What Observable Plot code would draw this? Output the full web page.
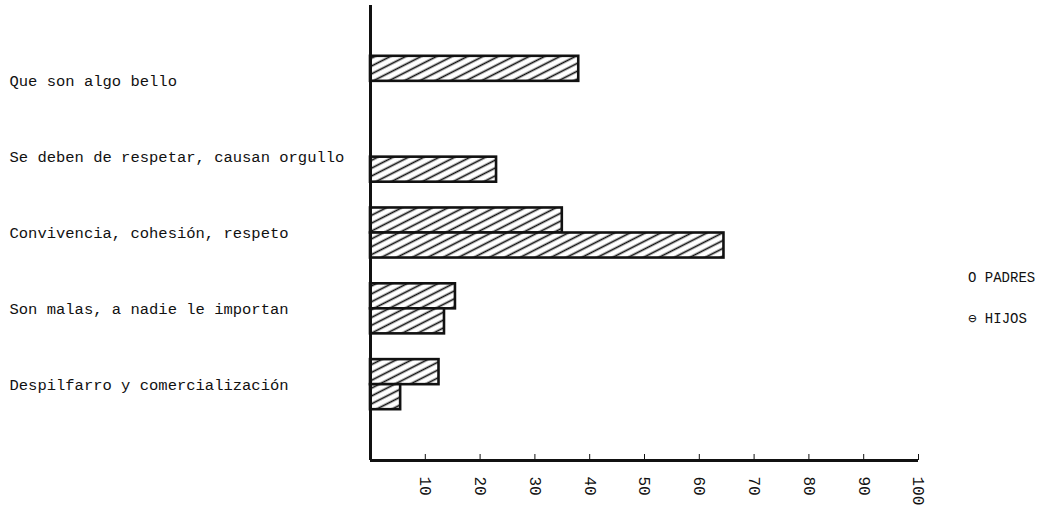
<!DOCTYPE html>
<html>
<head>
<meta charset="utf-8">
<script src="https://cdn.jsdelivr.net/npm/d3@7"></script>
<script src="https://cdn.jsdelivr.net/npm/@observablehq/plot@0.6"></script>
<style>
  html, body { margin: 0; padding: 0; background: #fff; }
  #wrap { position: relative; width: 1053px; height: 507px; }
  #legend { position: absolute; left: 968px; top: 258px; font-family: "Liberation Mono", monospace; font-size: 14px; color: #111; line-height: 41px; }
</style>
</head>
<body>
<div id="wrap"><div id="chart"></div><div id="legend"></div></div>
<script>
const categories = [
  "Que son algo bello",
  "Se deben de respetar, causan orgullo",
  "Convivencia, cohesión, respeto",
  "Son malas, a nadie le importan",
  "Despilfarro y comercialización"
];
const series = ["PADRES", "HIJOS"];
const legendSymbols = ["O", "⊖"];
const padres = [38, null, 35, 15.5, 12.5];
const hijos = [null, 23, 64.5, 13.5, 5.5];
const xTicks = [10, 20, 30, 40, 50, 60, 70, 80, 90, 100];

const data = [];
categories.forEach((c, i) => {
  if (padres[i] != null) data.push({cat: i, series: "PADRES", value: padres[i]});
  if (hijos[i] != null) data.push({cat: i, series: "HIJOS", value: hijos[i]});
});
const half = 0.33;

const chart = Plot.plot({
  width: 1053,
  height: 507,
  marginLeft: 370,
  marginRight: 135,
  marginTop: 5,
  marginBottom: 47,
  style: {fontFamily: "Liberation Mono, monospace", fontSize: "15.5px", color: "#111", background: "#fff"},
  x: {domain: [0, 100], label: null},
  y: {domain: [-1, 5], reverse: true, label: null},
  marks: [
    Plot.rect(data, {
      x1: 0,
      x2: "value",
      y1: d => d.series === "PADRES" ? d.cat - half : d.cat,
      y2: d => d.series === "PADRES" ? d.cat : d.cat + half,
      fill: "url(#hatch)",
      stroke: "#111",
      strokeWidth: 2.6
    }),
    Plot.ruleX([0], {stroke: "#111", strokeWidth: 3}),
    Plot.ruleY([5], {stroke: "#111", strokeWidth: 3}),
    Plot.axisY({
      ticks: [0, 1, 2, 3, 4],
      tickFormat: i => categories[i],
      tickSize: 0,
      textAnchor: "start",
      dx: -352,
      label: null
    }),
    Plot.axisX({
      ticks: xTicks,
      tickFormat: d => String(d),
      tickRotate: 90,
      tickSize: 6,
      dy: -6,
      tickPadding: 16,
      fontSize: 16,
      label: null
    })
  ]
});

chart.insertAdjacentHTML("afterbegin",
  '<defs><pattern id="hatch" patternUnits="userSpaceOnUse" width="14" height="7" patternTransform="rotate(-27)">' +
  '<rect width="14" height="7" fill="#fff"/>' +
  '<line x1="0" y1="3.5" x2="14" y2="3.5" stroke="#111" stroke-width="1.7"/></pattern></defs>');

document.getElementById("chart").appendChild(chart);
document.getElementById("legend").innerHTML =
  series.map((s, i) => `<div>${legendSymbols[i]} ${s}</div>`).join("");
</script>
</body>
</html>
